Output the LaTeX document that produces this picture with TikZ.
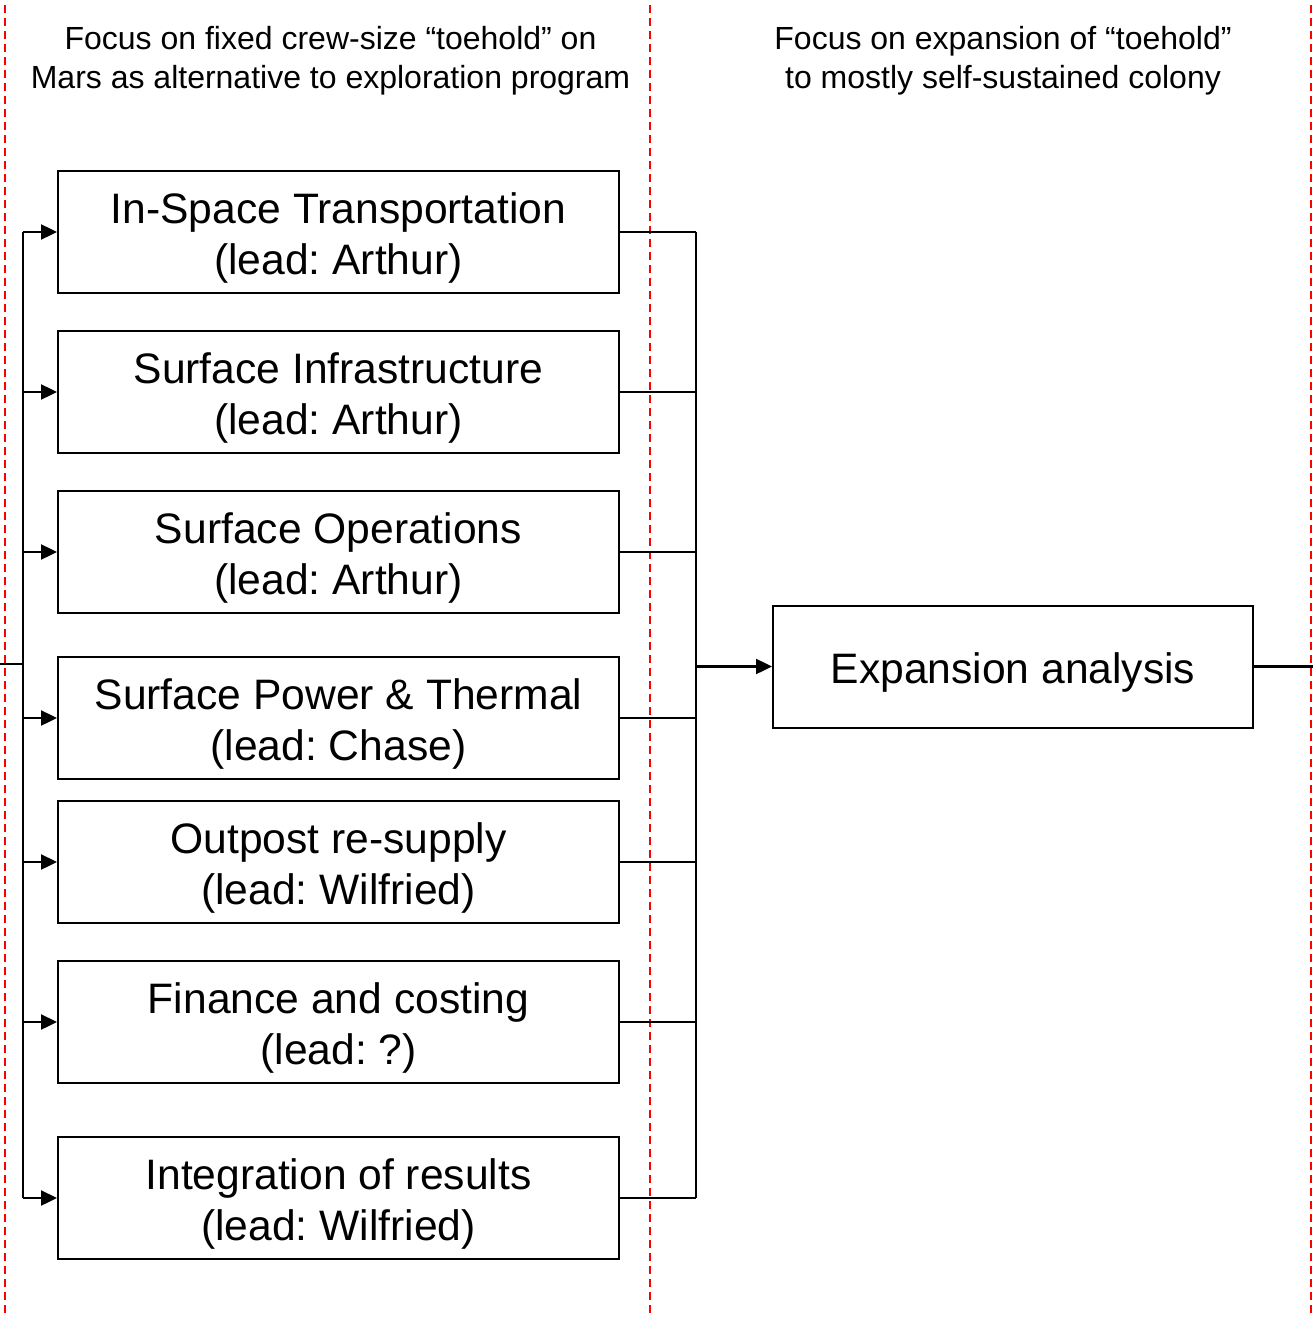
\documentclass[tikz,border=0pt]{standalone}
\usepackage{fontspec}
\setmainfont{Liberation Sans}
\usetikzlibrary{arrows.meta}
\newcommand\bxt[1]{\raisebox{-7pt}[\height][\depth]{\begin{tabular}{@{}c@{}}#1\end{tabular}}}
\begin{document}
\frenchspacing
\begin{tikzpicture}[x=1pt,y=-1pt,
  box/.style={draw,line width=2pt,minimum width=561pt,minimum height=122pt,inner sep=0pt,font=\fontsize{42.6}{51}\selectfont},
  conn/.style={line width=2.4pt},
  arr/.style={line width=2.4pt,-{Triangle[length=16pt,width=15pt]}},
  sep/.style={red,line width=1.8pt,dash pattern=on 8pt off 5pt},
  head/.style={align=center,font=\fontsize{32}{39}\selectfont,inner sep=0pt}]
\useasboundingbox (0,0) rectangle (1313,1321);
% separators
\draw[sep] (5,5) -- (5,1316);
\draw[sep] (650,5) -- (650,1316);
\draw[sep] (1311,5) -- (1311,1316);
% headers
\node[head] (h1) at (330.5,61) {Focus on fixed crew-size “toehold” on\\Mars as alternative to exploration program};
\node[head] (h2) at (1003,61) {Focus on expansion of “toehold”\\to mostly self-sustained colony};
% boxes
\node[box] (b1) at (338.5,232) {\bxt{In-Space Transportation\\(lead: Arthur)}};
\node[box] (b2) at (338.5,392) {\bxt{Surface Infrastructure\\(lead: Arthur)}};
\node[box] (b3) at (338.5,552) {\bxt{Surface Operations\\(lead: Arthur)}};
\node[box] (b4) at (338.5,718) {\bxt{Surface Power \& Thermal\\(lead: Chase)}};
\node[box] (b5) at (338.5,862) {\bxt{Outpost re-supply\\(lead: Wilfried)}};
\node[box] (b6) at (338.5,1022) {\bxt{Finance and costing\\(lead: ?)}};
\node[box] (b7) at (338.5,1198) {\bxt{Integration of results\\(lead: Wilfried)}};
\node[box,minimum width=480pt] (exp) at (1013,666.5) {\bxt{Expansion analysis}};
% buses
\coordinate (in) at (0,664);
\coordinate (lbus) at (23,664);
\coordinate (rbus) at (696,666.5);
\coordinate (out) at (1313,666.5);
\draw[conn] (in) -- (lbus);
\draw[conn] (b1.west -| lbus) -- (b7.west -| lbus);
\foreach \b in {b1,b2,b3,b4,b5,b6,b7}{
  \draw[arr] (\b.west -| lbus) -- (\b.west);
  \draw[conn] (\b.east) -- (\b.east -| rbus);
}
\draw[conn] (b1.east -| rbus) -- (b7.east -| rbus);
\draw[arr] (rbus) -- (exp.west);
\draw[conn] (exp.east) -- (out);
\end{tikzpicture}
\end{document}
